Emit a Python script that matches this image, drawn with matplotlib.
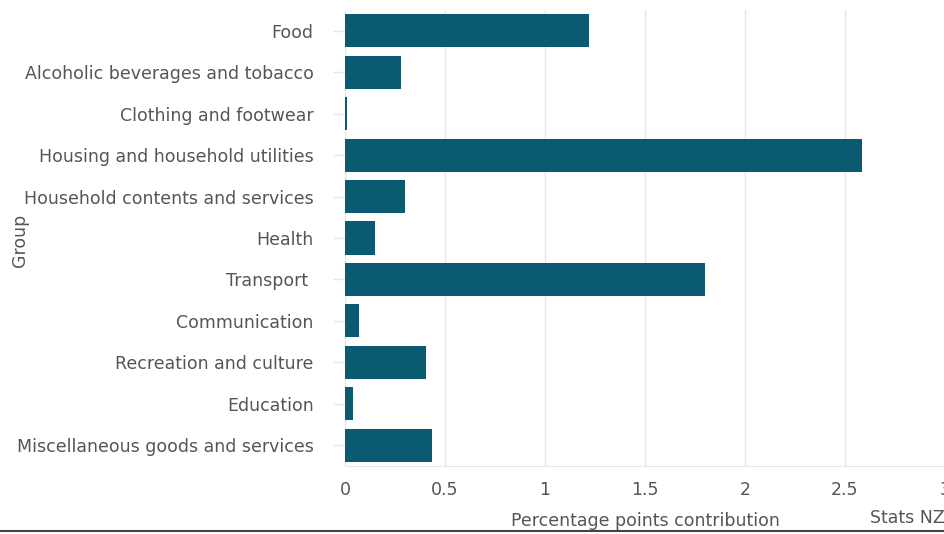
import matplotlib.pyplot as plt
from matplotlib.lines import Line2D

GROUPS = [
    "Food",
    "Alcoholic beverages and tobacco",
    "Clothing and footwear",
    "Housing and household utilities",
    "Household contents and services",
    "Health",
    "Transport ",
    "Communication",
    "Recreation and culture",
    "Education",
    "Miscellaneous goods and services",
]
CONTRIBUTION = [1.22, 0.28, 0.01, 2.585, 0.30, 0.15, 1.80, 0.07, 0.405, 0.04, 0.435]
X_TICKS = [0, 0.5, 1, 1.5, 2, 2.5, 3]
X_TICK_LABELS = ["0", "0.5", "1", "1.5", "2", "2.5", "3"]

BAR_COLOR = "#0a5a72"
TEXT_COLOR = "#555555"
GRID_COLOR = "#e3e6ec"
FS = 12.5

plt.rcParams['font.family'] = ['DejaVu Sans']

fig = plt.figure(figsize=(9.45, 5.34), dpi=100)
ax = fig.add_axes([345 / 945, (534 - 466) / 534, 600 / 945, 456 / 534])

ax.barh(range(len(GROUPS)), CONTRIBUTION, height=0.8, color=BAR_COLOR, zorder=3)
ax.set_ylim(len(GROUPS) - 0.5, -0.5)
ax.set_xlim(0, 3)

ax.set_yticks(range(len(GROUPS)))
ax.set_yticklabels(GROUPS)
ax.set_xticks(X_TICKS)
ax.set_xticklabels(X_TICK_LABELS)

ax.tick_params(axis='y', length=8.5, width=1, color=GRID_COLOR, labelsize=FS,
               labelcolor=TEXT_COLOR, pad=14)
ax.tick_params(axis='x', length=0, labelsize=FS, labelcolor=TEXT_COLOR, pad=11)

ax.grid(axis='x', color=GRID_COLOR, linewidth=1, zorder=0)
for side in ['top', 'right']:
    ax.spines[side].set_visible(False)
for side in ['left', 'bottom']:
    ax.spines[side].set_color(GRID_COLOR)

ax.set_xlabel("Percentage points contribution", fontsize=FS, color=TEXT_COLOR, labelpad=9)
fig.text(20 / 945, 1 - 240 / 534, "Group", rotation=90, fontsize=FS, color=TEXT_COLOR,
         ha='center', va='center')
fig.text(1.0, 1 - 518 / 534, "Stats NZ", fontsize=FS, color=TEXT_COLOR,
         ha='right', va='center')

fig.add_artist(Line2D([0, 1], [1 - 531 / 534, 1 - 531 / 534], transform=fig.transFigure,
                      color="#444444", linewidth=1.5))

fig.savefig("out.png", dpi=100)
